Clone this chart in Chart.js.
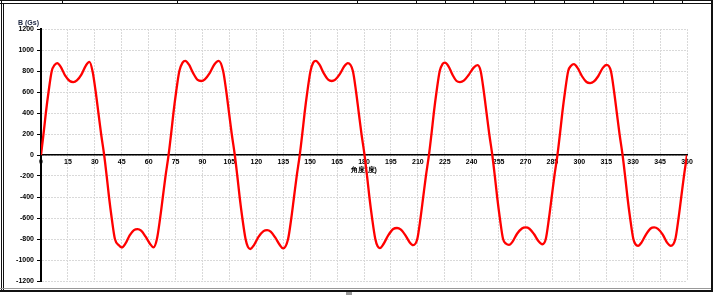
<!DOCTYPE html>
<html>
<head>
<meta charset="utf-8">
<script src="https://cdn.jsdelivr.net/npm/chart.js@4"></script>
<style>
  body { margin: 0; background: #fff; }
  #wrap { position: relative; width: 716px; height: 295px; overflow: hidden; background: #fff; }
  #myChart { position: absolute; left: 0; top: 0; }
  .ln { position: absolute; background: #111; pointer-events: none; }
</style>
</head>
<body>
<div id="wrap">
  <canvas id="myChart" width="716" height="295"></canvas>
  <!-- moldura da imagem original -->
  <div class="ln" style="left:0;top:0;width:713px;height:1px"></div>
  <div class="ln" style="left:0;top:3px;width:713px;height:1px"></div>
  <div class="ln" style="left:1px;top:0;width:1px;height:292px"></div>
  <div class="ln" style="left:3px;top:3px;width:1px;height:287px"></div>
  <div class="ln" style="left:711px;top:0;width:2px;height:292px"></div>
  <div class="ln" style="left:0;top:288px;width:711px;height:1px;background:#999"></div>
  <div class="ln" style="left:0;top:290px;width:713px;height:2px"></div>
  <div class="ln" style="left:346px;top:292px;width:6px;height:3px;background:#999"></div>
  <div id="stubs"></div>
</div>
<script>
// ângulo (graus) e densidade de fluxo B (Gs)
var angle = [
  0, 1.4, 2.7, 4.2, 6.0, 7.5, 9.0, 11.0, 13.5, 16.0, 18.0, 20.0, 22.5, 25.0, 27.0, 28.7, 30.5, 32.0, 33.5, 35.2,
  36.6, 37.9, 39.4, 41.2, 43.4, 45.0, 47.0, 49.4, 51.8, 53.8, 55.8, 58.2, 60.7, 62.7, 64.6, 66.4, 67.9, 69.4, 71.1,
  72.5, 73.8, 75.3, 77.1, 78.9, 80.4, 82.4, 84.8, 87.3, 89.3, 91.3, 93.8, 96.6, 99.0, 101.5, 103.3, 104.8, 106.3, 108.0,
  109.4, 110.7, 112.2, 114.0, 115.3, 116.6, 118.6, 121.2, 124.0, 126.0, 128.0, 130.5, 133.0, 134.9, 137.7, 139.5, 141.0, 142.5, 144.2,
  145.6, 146.9, 148.4, 150.2, 151.7, 153.2, 155.2, 157.7, 160.2, 162.0, 164.0, 166.5, 169.0, 171.0, 173.8, 175.6, 177.1, 178.6, 180.3,
  181.7, 183.0, 184.5, 186.3, 187.6, 188.8, 190.8, 193.5, 196.3, 198.4, 200.4, 202.9, 205.4, 207.4, 209.7, 211.5, 213.0, 214.5, 216.2,
  217.6, 218.9, 220.4, 222.2, 223.7, 225.1, 227.1, 229.3, 231.6, 233.5, 235.6, 238.2, 241.0, 243.3, 245.0, 246.8, 248.3, 249.8, 251.5,
  252.9, 254.2, 255.7, 257.5, 259.2, 260.8, 262.8, 265.3, 268.0, 270.1, 272.2, 274.7, 277.3, 279.4, 281.3, 283.1, 284.6, 286.1, 287.8,
  289.2, 290.5, 292.0, 293.8, 295.4, 297.0, 299.0, 301.5, 304.0, 306.0, 308.0, 310.5, 313.1, 315.2, 317.6, 319.4, 320.9, 322.4, 324.1,
  325.5, 326.8, 328.3, 330.1, 331.3, 332.7, 334.7, 337.2, 339.7, 341.7, 343.8, 346.4, 348.9, 351.0, 353.5, 355.3, 356.8, 358.3, 360
];
var flux = [
  0, 200, 400, 600, 800, 855, 875, 840, 755, 705, 695, 710, 765, 852, 887, 800, 600, 400, 200, 0,
  -200, -400, -600, -800, -860, -880, -845, -765, -715, -705, -720, -775, -845, -880, -800, -600, -400, -200, 0,
  200, 400, 600, 800, 880, 897, 862, 780, 715, 705, 720, 775, 862, 897, 800, 600, 400, 200, 0,
  -200, -400, -600, -800, -875, -895, -860, -780, -725, -715, -730, -785, -855, -890, -800, -600, -400, -200, 0,
  200, 400, 600, 800, 880, 897, 860, 775, 715, 705, 718, 770, 845, 875, 800, 600, 400, 200, 0,
  -200, -400, -600, -800, -870, -887, -850, -765, -705, -695, -708, -760, -830, -858, -800, -600, -400, -200, 0,
  200, 400, 600, 800, 865, 880, 845, 765, 705, 695, 708, 760, 830, 856, 800, 600, 400, 200, 0,
  -200, -400, -600, -800, -845, -856, -825, -750, -700, -690, -702, -752, -822, -850, -800, -600, -400, -200, 0,
  200, 400, 600, 800, 850, 865, 830, 750, 695, 685, 698, 750, 830, 859, 800, 600, 400, 200, 0,
  -200, -400, -600, -800, -850, -865, -832, -755, -700, -690, -703, -755, -835, -865, -800, -600, -400, -200, 0
];
var xTicks = [0, 15, 30, 45, 60, 75, 90, 105, 120, 135, 150, 165, 180, 195, 210, 225, 240, 255, 270, 285, 300, 315, 330, 345, 360];
var yTicks = [-1200, -1000, -800, -600, -400, -200, 0, 200, 400, 600, 800, 1000, 1200];
var xTitle = '角度(度)';
var yTitle = 'B (Gs)';

// pequenos traços verticais na borda superior
var stubX = [62, 177, 357, 416, 445, 473, 505, 534, 564, 593, 623, 653, 682];
var stubs = document.getElementById('stubs');
stubX.forEach(function (x) {
  var d = document.createElement('div');
  d.className = 'ln';
  d.style.cssText = 'left:' + x + 'px;top:0;width:1px;height:4px';
  stubs.appendChild(d);
});

var ctx = document.getElementById('myChart').getContext('2d');
var tickFont = { family: 'Liberation Sans', size: 7, weight: 'bold' };

// desenha o título do eixo y na horizontal, acima do eixo
var yTitlePlugin = {
  id: 'yTitle',
  afterDraw: function (chart) {
    var c = chart.ctx;
    c.save();
    c.font = 'bold 7px "Liberation Sans"';
    c.fillStyle = '#1b2540';
    c.textBaseline = 'middle';
    c.fillText(yTitle, 18, 23);
    c.restore();
  }
};

var chart = new Chart(ctx, {
  type: 'line',
  data: {
    datasets: [{
      label: 'B',
      data: angle.map(function (a, i) { return { x: a, y: flux[i] }; }),
      borderColor: '#ff0000',
      backgroundColor: 'rgba(0,0,0,0)',
      borderWidth: 2.3,
      pointRadius: 0,
      cubicInterpolationMode: 'monotone'
    }]
  },
  options: {
    responsive: false,
    animation: false,
    layout: { padding: { left: 0, right: 29, top: 29, bottom: 14 } },
    plugins: { legend: { display: false }, tooltip: { enabled: false } },
    scales: {
      x: {
        type: 'linear',
        position: { y: 0 },
        min: 0, max: 360,
        afterBuildTicks: function (s) { s.ticks = xTicks.map(function (v) { return { value: v }; }); },
        ticks: { font: tickFont, color: '#000', padding: 3, maxRotation: 0, autoSkip: false },
        grid: { color: '#d9d9d9', lineWidth: 1, drawTicks: false },
        border: { color: '#000', width: 1.5, dash: [2, 1] },
        title: { display: true, text: xTitle, font: { family: 'Liberation Sans', size: 7, weight: 'bold' }, color: '#000', padding: { top: -4, bottom: 0 } }
      },
      y: {
        min: -1200, max: 1200,
        afterBuildTicks: function (s) { s.ticks = yTicks.map(function (v) { return { value: v }; }); },
        afterFit: function (s) { s.width = 41; },
        ticks: { font: tickFont, color: '#000', padding: 3, callback: function (v) { return String(v); } },
        grid: { color: '#d9d9d9', lineWidth: 1, tickLength: 4, tickColor: '#000' },
        border: { color: '#000', width: 2, dash: [2, 1] }
      }
    }
  },
  plugins: [yTitlePlugin]
});
</script>
</body>
</html>
